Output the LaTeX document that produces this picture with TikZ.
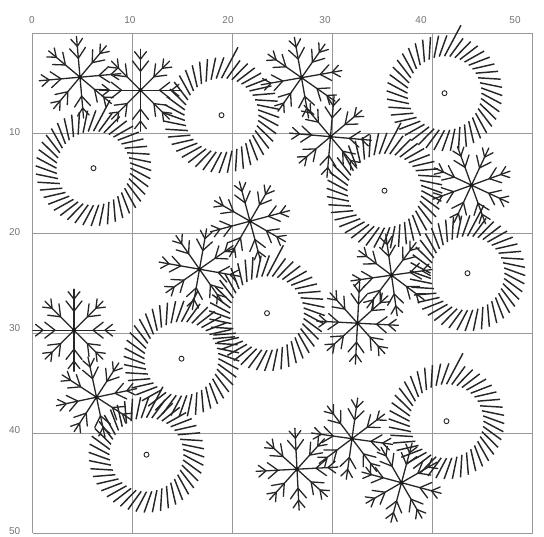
\documentclass[tikz,border=0pt]{standalone}
\usepackage{fontspec}
\setmainfont{Liberation Sans}
\begin{document}
\begin{tikzpicture}[x=10pt,y=-10pt,
  gridline/.style={draw=black!40,line width=1.1pt},
  tickline/.style={line width=1.45pt,draw=black!85},
  armline/.style={line width=1.3pt,draw=black!85,line cap=round},
  lbl/.style={font=\fontsize{10}{11}\selectfont,text=black!55,inner sep=0pt},
  ringpic/.pic={
    \foreach \i in {1,...,43} {
      \pgfmathsetmacro{\a}{-90+\i*8.1818}
      \draw[tickline] (\a:3.7) -- ++(\a+28:2.25);
    }
    \draw[tickline] (-90:3.7) -- ++(-62:3.5);
    \draw[line width=0.9pt,draw=black!85] (0,0) circle (0.25);
  },
  starpic/.pic={
    \foreach \i in {0,...,7} {
      \begin{scope}[rotate=\i*45]
        \draw[armline] (0,0) -- (4.1,0);
        \draw[armline] (1.9,0) -- ++(38:1.3) (1.9,0) -- ++(-38:1.3);
        \draw[armline] (3.1,0) -- ++(38:0.95) (3.1,0) -- ++(-38:0.95);
      \end{scope}
    }
    \fill[black!90] (0,0) circle (0.2);
  }]
\useasboundingbox (-3.25,-3.32) rectangle (51.15,50.38);
% grid
\foreach \k in {0,10,...,50} {
  \draw[gridline] (\k,0) -- (\k,50);
  \draw[gridline] (0,\k) -- (50,\k);
}
% axis labels
\foreach \k/\p in {0/-0.05,10/9.75,20/19.55,30/29.25,40/38.85,50/48.25}
  \node[lbl] (top\k) at (\p,-1.32) {\k};
\foreach \k/\p in {10/9.85,20/19.9,30/29.5,40/39.7,50/49.8}
  \node[lbl,anchor=east] (left\k) at (-1.2,\p) {\k};
% rings
\foreach \cx/\cy [count=\n] in {18.9/8.2, 6.1/13.5, 41.2/6.0, 35.2/15.75, 43.5/24.0,
    23.45/28.0, 14.9/32.55, 11.4/42.15, 41.4/38.8}
  \pic (ring\n) at (\cx,\cy) {ringpic};
% stars
\foreach \cx/\cy/\r [count=\n] in {4.75/4.4/5, 10.8/5.7/0, 26.9/4.45/10, 29.8/10.35/-5,
    43.9/15.2/20, 21.75/18.8/15, 16.7/23.6/-10, 35.9/24.2/8, 32.5/29.0/-3,
    4.15/29.7/0, 6.4/36.4/12, 31.95/40.55/-8, 26.45/43.6/3, 36.9/44.95/-15}
  \pic[rotate=\r] (star\n) at (\cx,\cy) {starpic};
\end{tikzpicture}
\end{document}
